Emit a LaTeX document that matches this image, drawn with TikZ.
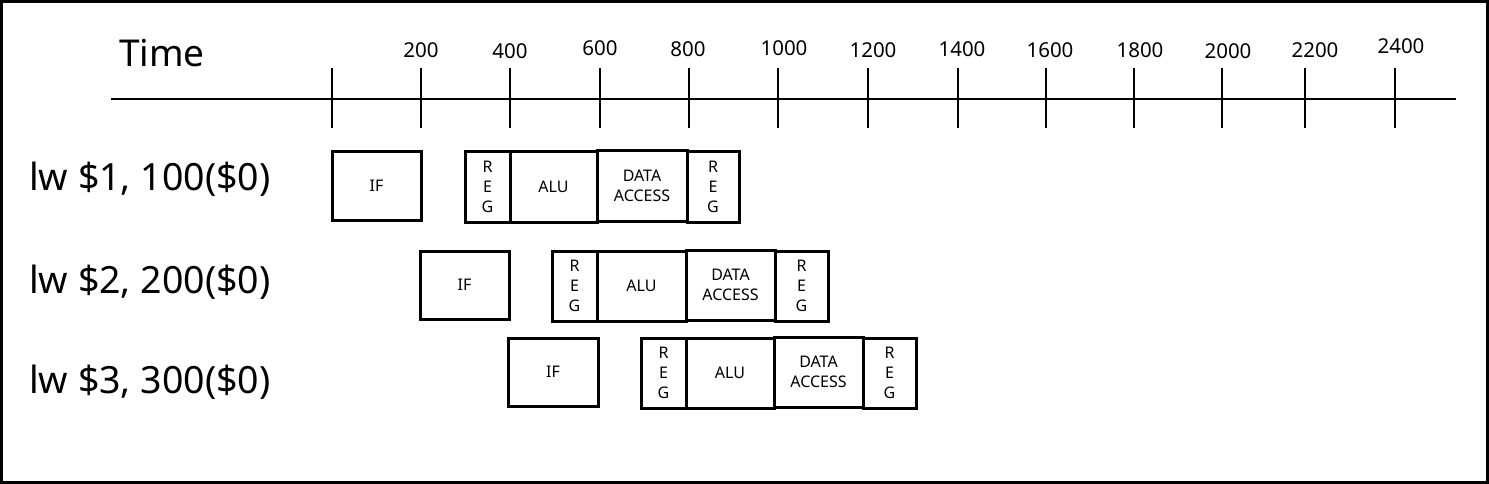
\documentclass[tikz,border=0pt]{standalone}
\usepackage{fontspec}
\setmainfont{Noto Sans}
\begin{document}
\begin{tikzpicture}[x=1pt,y=-1pt,
  stage/.style={draw,line width=3pt,outer sep=0pt,minimum height=68pt,inner sep=0pt,font=\fontsize{16}{20}\selectfont,align=center,anchor=north west},
  tick/.style={line width=2.8pt},
  ticklbl/.style={font=\fontsize{20.5}{22}\selectfont,inner sep=0pt},
  instr/.style={font=\fontsize{37.5}{40}\selectfont,inner sep=0pt,anchor=west}]
\useasboundingbox (0,0) rectangle (1489,484);
\draw[line width=2.6pt] (1.5,1.5) rectangle (1487.5,482.5);
\node[font=\fontsize{37}{40}\selectfont,inner sep=0pt,anchor=west] (time) at (119,53) {Time};
\coordinate (axs) at (111,99);
\coordinate (axe) at (1456,99);
\draw[line width=2.8pt] (axs) -- (axe);
\foreach \x [count=\i] in {332,421,510,600,689,778,868,958,1046,1134,1222,1305,1395}{
  \coordinate (t\i a) at (\x,68);
  \coordinate (t\i b) at (\x,128);
  \draw[tick] (t\i a) -- (t\i b);
}
\foreach \x/\l/\ly [count=\i] in {421/200/50,510/400/51,600/600/48,688/800/49,784/1000/48,873/1200/50,962/1400/49,1050/1600/50,1140/1800/50,1228/2000/51,1315/2200/50,1401/2400/46}{
  \node[ticklbl] (lbl\i) at (\x,\ly) {\l};
}
% instructions
\node[instr] (i1) at (29,179) {lw \$1, 100(\$0)};
\node[instr] (i2) at (29,282) {lw \$2, 200(\$0)};
\node[instr] (i3) at (29,382) {lw \$3, 300(\$0)};
% row 1
\node[stage,minimum width=89pt] (if1) at (332,152) {IF};
\node[stage,minimum width=45pt,minimum height=70pt] (ra1) at (465,152) {R\\E\\G};
\node[stage,minimum width=87pt,minimum height=70pt] (alu1) at (510,152) {ALU};
\node[stage,minimum width=90pt,minimum height=70pt] (da1) at (597,151) {DATA\\ACCESS};
\node[stage,minimum width=52pt,minimum height=70pt] (rb1) at (687,152) {R\\E\\G};
% row 2
\node[stage,minimum width=89pt] (if2) at (420,251) {IF};
\node[stage,minimum width=45pt,minimum height=70pt] (ra2) at (552,251) {R\\E\\G};
\node[stage,minimum width=89pt,minimum height=70pt] (alu2) at (597,251) {ALU};
\node[stage,minimum width=89pt,minimum height=70pt] (da2) at (686,250) {DATA\\ACCESS};
\node[stage,minimum width=53pt,minimum height=70pt] (rb2) at (775,251) {R\\E\\G};
% row 3
\node[stage,minimum width=90pt] (if3) at (508,338) {IF};
\node[stage,minimum width=45pt,minimum height=70pt] (ra3) at (641,338) {R\\E\\G};
\node[stage,minimum width=88pt,minimum height=70pt] (alu3) at (686,338) {ALU};
\node[stage,minimum width=89pt,minimum height=70pt] (da3) at (774,337) {DATA\\ACCESS};
\node[stage,minimum width=53pt,minimum height=70pt] (rb3) at (863,338) {R\\E\\G};
\end{tikzpicture}
\end{document}
